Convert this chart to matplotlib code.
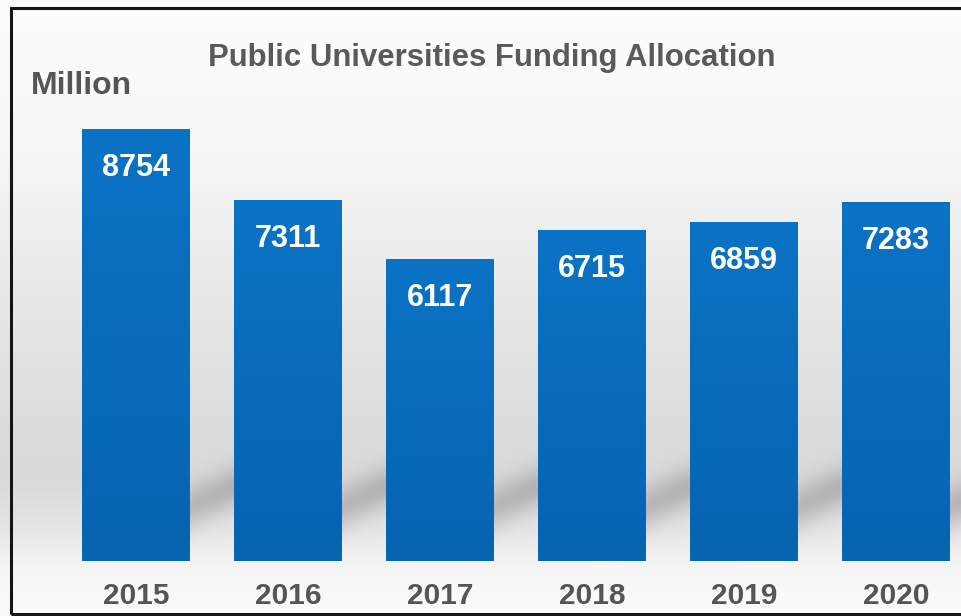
import numpy as np
import matplotlib.pyplot as plt
from matplotlib.patches import Rectangle
from matplotlib.colors import LinearSegmentedColormap

years = ['2015', '2016', '2017', '2018', '2019', '2020']
funding = [8754, 7311, 6117, 6715, 6859, 7283]

W, H, DPI = 961, 616, 100
fig = plt.figure(figsize=(W / DPI, H / DPI), dpi=DPI)
ax = fig.add_axes([0, 0, 1, 1])
ax.set_axis_off()

x = np.arange(len(years))
bar_w = 0.71
px = 152.0      # pixels per category
upp = 20.26     # value units per pixel
base_row = 561  # pixel row of the zero line
ax.set_xlim(-136 / px, (W - 136) / px)
ax.set_ylim(-(H - base_row) * upp, base_row * upp)
x0, x1 = ax.get_xlim()
y0, y1 = ax.get_ylim()

# backdrop: soft vertical grey band plus diagonal shadows behind the bars
gx = np.linspace(x0, x1, W)
gy = np.linspace(y1, y0, H)
X, Y = np.meshgrid(gx, gy)
rows = np.arange(H)
shade = np.interp(rows, [0, 60, 150, 250, 350, 430, 480, 530, 565, 600, 616],
                  [253, 251, 246, 237, 227, 220, 218, 230, 245, 250, 251])
img = np.repeat(shade[:, None], W, axis=1).astype(float)

for i, v in enumerate(funding):
    xr = x[i] + bar_w / 2
    xl = x[i] + 1 - bar_w / 2
    t = (X - xr) / (xl - xr)
    line = 1070 + t * (1480 - 1070)
    band = np.exp(-((Y - line) / 440.0) ** 2)
    fade = np.clip(t * 20 + 1, 0, 1) * np.clip((1.3 - t) * 3, 0, 1)
    img -= 40 * band * fade

img = np.clip(img, 0, 255) / 255.0
ax.imshow(np.dstack([img] * 3), extent=(x0, x1, y0, y1), aspect='auto',
          zorder=0, interpolation='bilinear')

# bars with a slight top-to-bottom gradient
blue = LinearSegmentedColormap.from_list('blue', ['#0664b0', '#0b73c5'])
grad = np.linspace(0, 1, 256)[:, None]
bars = ax.bar(x, funding, width=bar_w, color='#0a6cbd', zorder=2)
for b in bars:
    im = ax.imshow(grad, cmap=blue, origin='lower', aspect='auto', zorder=3,
                   extent=(b.get_x(), b.get_x() + b.get_width(), 0, b.get_height()))
    im.set_clip_path(b)

font = 'Liberation Sans'
for xi, v in zip(x, funding):
    ax.text(xi, v - 39 * upp, str(v), ha='center', va='center', color='white',
            fontsize=22, fontweight='bold', family=font, zorder=4)

for xi, yr in zip(x, years):
    ax.text(xi, -(596 - base_row) * upp, yr, ha='center', va='center',
            color='#555555', fontsize=21.5, fontweight='bold', family=font, zorder=4)

fig.text(492 / W, 1 - 58 / H, 'Public Universities Funding Allocation', ha='center',
         va='center', color='#5a5a5a', fontsize=22.4, fontweight='bold', family=font)
fig.text(31 / W, 1 - 86 / H, 'Million', ha='left', va='center', color='#555555',
         fontsize=23, fontweight='bold', family=font)

# frame around the chart, open past the right edge
fig.patches.append(Rectangle((11 / W, 1 - 614 / H), 1.2, (614 - 8) / H,
                             transform=fig.transFigure, fill=False,
                             edgecolor='#151515', linewidth=2.2))

fig.savefig('out.png', dpi=DPI)
